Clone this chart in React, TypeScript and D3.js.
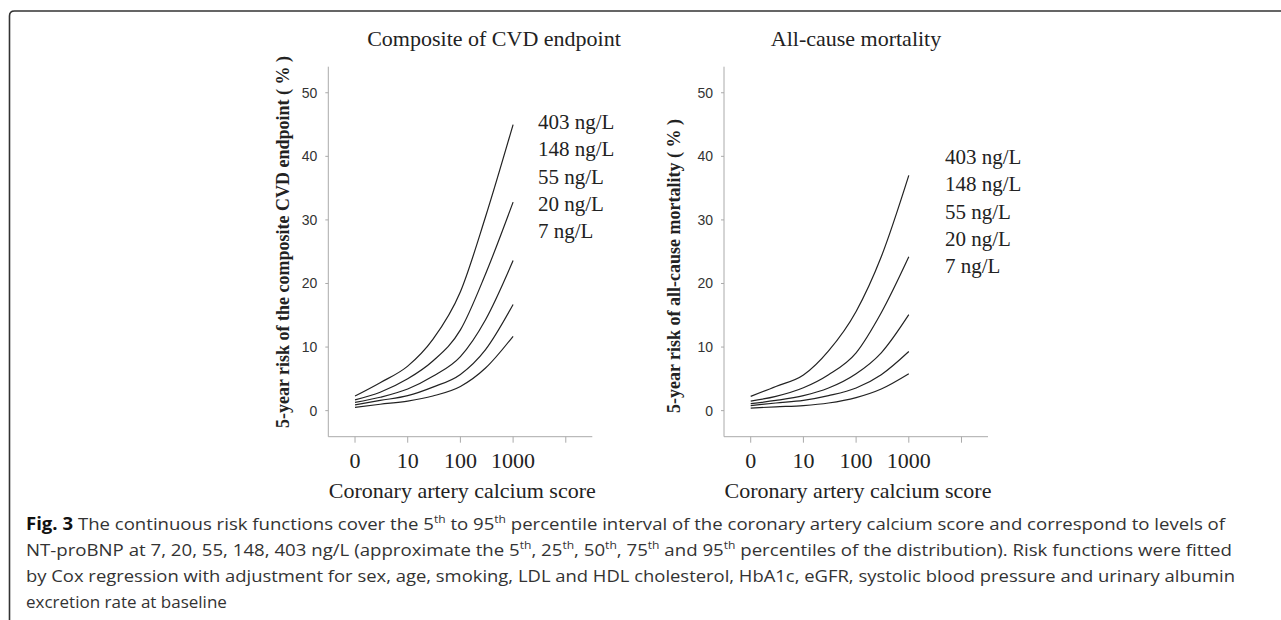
import React, { useEffect, useRef } from 'react';
import * as d3 from 'd3';

// calcium score points the risk curves were read at
const cacScores = [0, 3, 10, 30, 100, 300, 1000];
const levelLabels = ['403 ng/L', '148 ng/L', '55 ng/L', '20 ng/L', '7 ng/L'];

// 5-year risk (%) of the composite CVD endpoint, one row per NT-proBNP level
const cvd403 = [2.3, 4.4, 7.0, 11.2, 18.7, 30.5, 45.0];
const cvd148 = [1.7, 2.9, 5.0, 7.8, 12.7, 21.5, 32.8];
const cvd55 = [1.3, 2.1, 3.4, 5.4, 8.5, 14.3, 23.6];
const cvd20 = [0.9, 1.6, 2.35, 3.7, 5.7, 9.6, 16.7];
const cvd7 = [0.5, 1.0, 1.5, 2.3, 3.8, 6.7, 11.7];

// 5-year risk (%) of all-cause mortality
const mort403 = [2.25, 3.8, 5.6, 9.4, 15.6, 24.2, 37.0];
const mort148 = [1.5, 2.25, 3.6, 5.65, 9.1, 15.4, 24.2];
const mort55 = [1.1, 1.6, 2.35, 3.55, 5.8, 9.1, 15.1];
const mort20 = [0.8, 1.2, 1.6, 2.35, 3.55, 5.65, 9.3];
const mort7 = [0.4, 0.6, 0.8, 1.2, 2.05, 3.4, 5.8];

const yTicks = [0, 10, 20, 30, 40, 50];
const xTicks = [0, 10, 100, 1000, 10000];
const xTickLabels = ['0', '10', '100', '1000', ''];

const panels = [
  {
    title: 'Composite of CVD endpoint',
    yTitle: '5-year risk of the composite CVD endpoint ( % )',
    series: [cvd403, cvd148, cvd55, cvd20, cvd7],
    left: 328.3,
    titleX: 494,
    yTitleX: 289,
    yTitleY: 242,
    labelX: 538,
    labelY: 129,
  },
  {
    title: 'All-cause mortality',
    yTitle: '5-year risk of all-cause mortality ( % )',
    series: [mort403, mort148, mort55, mort20, mort7],
    left: 724,
    titleX: 856,
    yTitleX: 680,
    yTitleY: 266,
    labelX: 945,
    labelY: 164,
  },
];

const captionLines = [
  [
    { t: 'Fig. 3', b: true },
    { t: ' The continuous risk functions cover the 5' },
    { t: 'th', s: true },
    { t: ' to 95' },
    { t: 'th', s: true },
    { t: ' percentile interval of the coronary artery calcium score and correspond to levels of' },
  ],
  [
    { t: 'NT-proBNP at 7, 20, 55, 148, 403 ng/L (approximate the 5' },
    { t: 'th', s: true },
    { t: ', 25' },
    { t: 'th', s: true },
    { t: ', 50' },
    { t: 'th', s: true },
    { t: ', 75' },
    { t: 'th', s: true },
    { t: ' and 95' },
    { t: 'th', s: true },
    { t: ' percentiles of the distribution). Risk functions were fitted' },
  ],
  [
    {
      t: 'by Cox regression with adjustment for sex, age, smoking, LDL and HDL cholesterol, HbA1c, eGFR, systolic blood pressure and urinary albumin',
    },
  ],
  [{ t: 'excretion rate at baseline' }],
];
const captionWidths = [1199, 1206, 1209, 0];

// 0 sits where 1 would on the log axis
const logPos = (v: number) => (v < 1 ? 0 : Math.log10(v));

const serif = '"Liberation Serif", "Times New Roman", serif';
const sans = '"Liberation Sans", Arial, sans-serif';

const App = () => {
  const rootRef = useRef<SVGSVGElement>(null);

  useEffect(() => {
    const svg = d3.select(rootRef.current);
    svg.selectAll('*').remove();

    // frame: top and left rule with a rounded corner
    svg
      .append('path')
      .attr('d', 'M9.5,620 L9.5,16 Q9.5,11 14.5,11 L1281,11')
      .attr('fill', 'none')
      .attr('stroke', '#333')
      .attr('stroke-width', 1.6);

    const y = d3.scaleLinear().domain([-4.1, 54.1]).range([436.7, 66.7]);

    panels.forEach((p) => {
      const x = d3
        .scaleLinear()
        .domain([-0.507, 4.503])
        .range([p.left, p.left + 264]);
      const g = svg.append('g');

      // axes
      g.append('line')
        .attr('x1', p.left)
        .attr('x2', p.left)
        .attr('y1', y(54.1))
        .attr('y2', y(-4.1))
        .attr('stroke', '#aaa');
      g.append('line')
        .attr('x1', p.left)
        .attr('x2', p.left + 264)
        .attr('y1', y(-4.1))
        .attr('y2', y(-4.1))
        .attr('stroke', '#aaa');

      yTicks.forEach((v) => {
        g.append('line')
          .attr('x1', p.left - 3)
          .attr('x2', p.left)
          .attr('y1', y(v))
          .attr('y2', y(v))
          .attr('stroke', '#aaa');
        g.append('text')
          .attr('x', p.left - 11)
          .attr('y', y(v) + 5)
          .attr('text-anchor', 'end')
          .attr('font-family', sans)
          .attr('font-size', 14)
          .attr('fill', '#333')
          .text(v);
      });

      xTicks.forEach((v, i) => {
        const xp = x(logPos(v));
        g.append('line')
          .attr('x1', xp)
          .attr('x2', xp)
          .attr('y1', y(-4.1))
          .attr('y2', y(-4.1) + 6)
          .attr('stroke', '#aaa');
        g.append('text')
          .attr('x', xp)
          .attr('y', 468)
          .attr('text-anchor', 'middle')
          .attr('font-family', serif)
          .attr('font-size', 22)
          .attr('fill', '#222')
          .text(xTickLabels[i]);
      });

      g.append('text')
        .attr('x', p.left + 134)
        .attr('y', 498)
        .attr('text-anchor', 'middle')
        .attr('font-family', serif)
        .attr('font-size', 22)
        .attr('fill', '#222')
        .text('Coronary artery calcium score');

      g.append('text')
        .attr('x', p.titleX)
        .attr('y', 46)
        .attr('text-anchor', 'middle')
        .attr('font-family', serif)
        .attr('font-size', 22)
        .attr('fill', '#222')
        .text(p.title);

      g.append('text')
        .attr('transform', `translate(${p.yTitleX},${p.yTitleY}) rotate(-90)`)
        .attr('text-anchor', 'middle')
        .attr('font-family', serif)
        .attr('font-weight', 'bold')
        .attr('font-size', 18)
        .attr('fill', '#222')
        .text(p.yTitle);

      const line = d3
        .line<number>()
        .x((_, i) => x(logPos(cacScores[i])))
        .y((d) => y(d))
        .curve(d3.curveMonotoneX);

      p.series.forEach((s) => {
        g.append('path')
          .attr('d', line(s))
          .attr('fill', 'none')
          .attr('stroke', '#222')
          .attr('stroke-width', 1.2);
      });

      levelLabels.forEach((l, i) => {
        g.append('text')
          .attr('x', p.labelX)
          .attr('y', p.labelY + i * 27.3)
          .attr('font-family', serif)
          .attr('font-size', 21)
          .attr('fill', '#222')
          .text(l);
      });
    });

    // caption
    captionLines.forEach((parts, li) => {
      const t = svg
        .append('text')
        .attr('x', 26)
        .attr('y', 530 + li * 26)
        .attr('font-family', '"Open Sans", "Noto Sans", sans-serif')
        .attr('font-size', 17)
        .attr('fill', '#333');
      if (captionWidths[li]) t.attr('textLength', captionWidths[li]).attr('lengthAdjust', 'spacingAndGlyphs');
      parts.forEach((part: any) => {
        const ts = t.append('tspan').text(part.t);
        if (part.b) ts.attr('font-weight', 'bold').attr('fill', '#111');
        if (part.s) ts.attr('font-size', 11).attr('dy', -7);
        else if (parts.length > 1) ts.attr('dy', 0);
      });
      // undo superscript shifts
      let shift = 0;
      t.selectAll<SVGTSpanElement, unknown>('tspan').each(function (_, i) {
        const part: any = parts[i];
        if (part.s) {
          shift = 7;
        } else if (shift) {
          d3.select(this).attr('dy', shift);
          shift = 0;
        }
      });
    });
  }, []);

  return (
    <div style={{ position: 'absolute', left: 0, top: 0, background: '#fff' }}>
      <svg ref={rootRef} width={1281} height={620} style={{ display: 'block' }} />
    </div>
  );
};

export default App;
